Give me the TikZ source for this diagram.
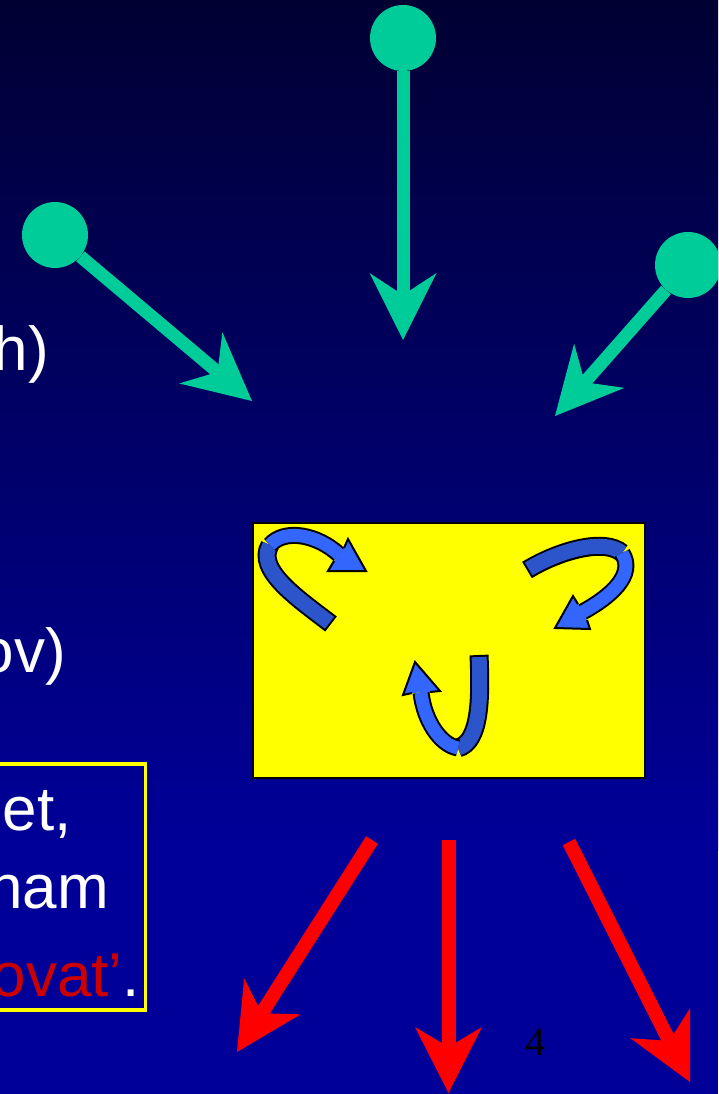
\documentclass[tikz,border=0pt]{standalone}
\usepackage{fontspec}
\setmainfont{Liberation Sans}
\newfontfamily\pnfont{Liberation Serif}
\usetikzlibrary{arrows.meta}
\definecolor{bgtop}{RGB}{0,0,51}
\definecolor{bgbot}{RGB}{0,0,153}
\definecolor{gr}{RGB}{0,204,153}
\definecolor{rd}{RGB}{255,0,0}
\definecolor{yl}{RGB}{255,255,0}
\definecolor{rblue}{RGB}{51,102,255}
\definecolor{dblue}{RGB}{44,85,204}
\definecolor{dred}{RGB}{204,0,0}
\tikzset{
  dot/.style={circle, fill=gr, minimum size=66pt, inner sep=0pt},
  garrow/.style={draw=gr, line width=13pt, -{Stealth[length=67pt,width=67pt,inset=22pt,line width=0pt]}},
  rarrow/.style={draw=rd, line width=14pt, -{Stealth[length=66pt,width=67pt,inset=20pt,line width=0pt]}},
  txt/.style={text=white, font=\fontsize{62}{73}\selectfont, inner sep=0pt, anchor=base east},
  rbdout/.style={line width=19pt, draw=black},
  rbdark/.style={line width=15pt, draw=dblue},
  rblout/.style={line width=17pt, draw=black},
  rblight/.style={line width=13pt, draw=rblue},
  headfill/.style={fill=rblue},
  headline/.style={draw=black, line width=2pt, line join=miter},
}
\begin{document}
\begin{tikzpicture}[x=1pt,y=-1pt]
\useasboundingbox (0,0) rectangle (718,1094);
\clip (0,0) rectangle (718,1094);
% background
\shade[top color=bgtop,bottom color=bgbot] (0,0) rectangle (718,850);
\fill[bgbot] (0,849) rectangle (718,1094);

% left texts (cut off at the left edge)
\node[txt] (t1) at (49,370) {h)};
\node[txt] (t2) at (66,672) {ov)};
\node[draw=yl, line width=3.5pt, minimum width=160pt, minimum height=246pt, inner sep=0pt] (tbox) at (65.5,887) {};
\node[txt] (t3) at (72,830) {et,};
\node[txt] (t4) at (109,908) {nam};
\node[txt] (t5) at (140,996) {\textcolor{dred}{ovat’}.};

% green arrows
\node[dot] (g1) at (403,38) {};
\node[dot] (g2) at (55,235) {};
\node[dot] (g3) at (688,265) {};
\coordinate (g1t) at (403,340);
\coordinate (g2t) at (252,401);
\coordinate (g3t) at (555,416);
\draw[garrow] (g1) -- (g1t);
\draw[garrow] (g2) -- (g2t);
\draw[garrow] (g3) -- (g3t);

% yellow box
\node[draw=black, fill=yl, line width=2pt, minimum width=392pt, minimum height=255pt, inner sep=0pt] (box) at (449,650.5) {};

% ribbon arrow 1 (top left)
\draw[rbdout] (331,624) .. controls (300,600) and (255,570) .. (270,545);
\draw[rbdark, shorten <=2pt] (331,624) .. controls (300,600) and (255,570) .. (270,545);
\draw[rblout] (270,545) .. controls (285,528) and (318,535) .. (339,554.5);
\draw[rblight] (270,545) .. controls (285,528) and (318,535) .. (339,554.5);
\fill[headfill] (344,548) -- (348,539) -- (366,571) -- (328,571) -- (334,561) -- cycle;
\draw[headline] (344,548) -- (348,539) -- (366,571) -- (328,571) -- (334,561);

% ribbon arrow 2 (top right)
\draw[rbdout] (527,570) .. controls (560,550) and (605,538) .. (622,553);
\draw[rbdark, shorten <=2pt] (527,570) .. controls (560,550) and (605,538) .. (622,553);
\draw[rblout] (622,553) .. controls (636,575) and (610,597) .. (582.5,612);
\draw[rblight] (622,553) .. controls (636,575) and (610,597) .. (582.5,612);
\fill[headfill] (578,604) -- (573,596) -- (555,628) -- (590,629) -- (587,620) -- cycle;
\draw[headline] (578,604) -- (573,596) -- (555,628) -- (590,629) -- (587,620);

% ribbon arrow 3 (bottom)
\draw[rbdout] (479,655) .. controls (481,700) and (480,742) .. (458,748);
\draw[rbdark, shorten <=2pt] (479,655) .. controls (481,700) and (480,742) .. (458,748);
\draw[rblout] (458,748) .. controls (440,745) and (424,720) .. (421,692.5);
\draw[rblight] (458,748) .. controls (440,745) and (424,720) .. (421,692.5);
\fill[headfill] (412,693) -- (403,695) -- (415,662) -- (440,691) -- (430,692) -- cycle;
\draw[headline] (412,693) -- (403,695) -- (415,662) -- (440,691) -- (430,692);

% red arrows
\coordinate (r1s) at (372,840);
\coordinate (r1t) at (237,1052);
\coordinate (r2s) at (448.5,840);
\coordinate (r2t) at (448.5,1093);
\coordinate (r3s) at (569,842);
\coordinate (r3t) at (690,1082);
\draw[rarrow] (r1s) -- (r1t);
\draw[rarrow] (r2s) -- (r2t);
\draw[rarrow] (r3s) -- (r3t);

% page number
\node[font=\pnfont\fontsize{40}{40}\selectfont, anchor=base, inner sep=0pt, text=black] (pn) at (535.5,1055) {4};
\end{tikzpicture}
\end{document}
